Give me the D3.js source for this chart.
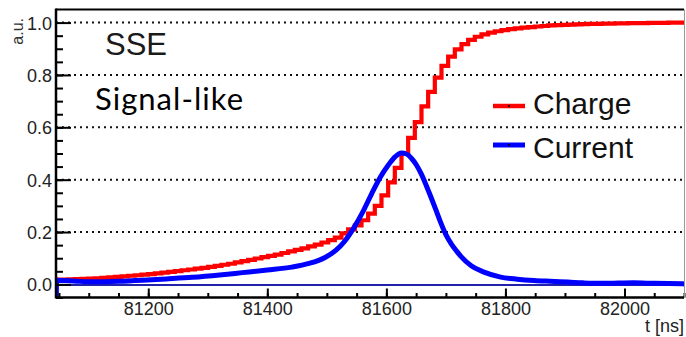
<!DOCTYPE html>
<html><head><meta charset="utf-8">
<script src="https://cdn.jsdelivr.net/npm/d3@7"></script>
<style>body{margin:0;background:#fff} svg{display:block}</style>
</head><body>
<svg id="c" width="686" height="337"></svg>
<script>
// ---- data ----
const yTicks = [0.0, 0.2, 0.4, 0.6, 0.8, 1.0];
const xTicks = [81200, 81400, 81600, 81800, 82000];
const seriesNames = ["Charge", "Current"];
const chargeStart = 81043, chargeBin = 11.2;
const chargeValues = [
  0.018, 0.018, 0.019, 0.020, 0.021, 0.022, 0.023, 0.025, 0.027, 0.029,
  0.031, 0.033, 0.035, 0.037, 0.039, 0.042, 0.045, 0.048, 0.051, 0.054,
  0.057, 0.060, 0.063, 0.067, 0.071, 0.075, 0.079, 0.084, 0.089, 0.094,
  0.099, 0.104, 0.109, 0.114, 0.120, 0.126, 0.132, 0.138, 0.145, 0.152,
  0.160, 0.169, 0.179, 0.195, 0.210, 0.225, 0.245, 0.270, 0.300, 0.340,
  0.390, 0.445, 0.500, 0.560, 0.620, 0.680, 0.735, 0.790, 0.835, 0.870,
  0.898, 0.918, 0.934, 0.946, 0.955, 0.962, 0.967, 0.971, 0.975, 0.978,
  0.981, 0.983, 0.985, 0.987, 0.989, 0.990, 0.991, 0.992, 0.993, 0.994,
  0.995, 0.995, 0.996, 0.996, 0.997, 0.997, 0.998, 0.998, 0.998, 0.999,
  0.999, 0.999, 1.000, 1.000, 1.000, 1.000
];
const currentT = [81045, 81046, 81080, 81110, 81150, 81190, 81230, 81274, 81320, 81358,
  81400, 81441, 81470, 81497, 81515, 81530, 81545, 81560, 81575, 81590,
  81603, 81615, 81625, 81634, 81642, 81650, 81659, 81667, 81675, 81684,
  81692, 81700, 81709, 81718, 81726, 81742, 81764, 81792, 81820, 81848,
  81875, 81905, 81930, 81960, 81990, 82015, 82050, 82100];
const currentV = [-0.2, 0.016, 0.012, 0.010, 0.012, 0.016, 0.021, 0.027, 0.036, 0.045,
  0.055, 0.066, 0.080, 0.103, 0.130, 0.165, 0.215, 0.275, 0.345, 0.410,
  0.455, 0.488, 0.502, 0.498, 0.482, 0.458, 0.420, 0.378, 0.333, 0.280,
  0.232, 0.190, 0.155, 0.127, 0.105, 0.072, 0.047, 0.028, 0.020, 0.015,
  0.012, 0.009, 0.006, 0.004, 0.005, 0.006, 0.004, 0.002];

// ---- layout ----
const svg = d3.select("#c");
const L = 56, R = 684, T = 9.5, B = 297.5;
const x = d3.scaleLinear().domain([81045, 82100]).range([L, R]);
const y = d3.scaleLinear().domain([-0.05, 1.05]).range([B, T]);
const font = "'Liberation Sans', Arial, Helvetica, sans-serif";

svg.append("defs").append("clipPath").attr("id", "clip")
  .append("rect").attr("x", L).attr("y", T).attr("width", R - L).attr("height", B - T);

// grid (dotted)
svg.append("g").selectAll("line").data(yTicks.filter(d => d > 0)).join("line")
  .attr("x1", L).attr("x2", R).attr("y1", d => y(d)).attr("y2", d => y(d))
  .attr("stroke", "#111").attr("stroke-width", 2).attr("stroke-dasharray", "2,4");

const plot = svg.append("g").attr("clip-path", "url(#clip)");

// zero line
plot.append("line").attr("x1", L).attr("x2", R).attr("y1", y(0) + 0.5).attr("y2", y(0) + 0.5)
  .attr("stroke", "#2222aa").attr("stroke-width", 2);

// charge histogram (step)
const chargePts = chargeValues.map((v, i) => [chargeStart + i * chargeBin, v]);
chargePts.push([chargeStart + chargeValues.length * chargeBin, chargeValues[chargeValues.length - 1]]);
plot.append("path").datum(chargePts)
  .attr("fill", "none").attr("stroke", "#ff0000").attr("stroke-width", 4.2)
  .attr("d", d3.line().x(d => x(d[0])).y(d => y(d[1])).curve(d3.curveStepAfter));

// current curve
const curPts = currentT.map((t, i) => [t, currentV[i]]);
plot.append("path").datum(curPts)
  .attr("fill", "none").attr("stroke", "#0000ff").attr("stroke-width", 5)
  .attr("stroke-linejoin", "round")
  .attr("d", d3.line().x(d => x(d[0])).y(d => y(d[1])).curve(d3.curveMonotoneX));

// axes
function styleAxis(g) {
  g.select(".domain").remove();
  g.selectAll(".tick line").attr("stroke", "#000").attr("stroke-width", 2);
  g.selectAll(".tick text").attr("font-family", font).attr("font-size", 18).attr("fill", "#222");
}
svg.append("g").attr("transform", `translate(${L},0)`)
  .call(d3.axisLeft(y).tickValues(d3.range(0, 21).map(i => -0.05 + i * 0.05)).tickSize(-7).tickFormat(""))
  .call(styleAxis);
svg.append("g").attr("transform", `translate(${L},0)`)
  .call(d3.axisLeft(y).tickValues(yTicks).tickSize(-15).tickPadding(4).tickFormat(d3.format(".1f")))
  .call(styleAxis)
  .selectAll(".tick text").attr("dy", "0.36em");
svg.append("g").attr("transform", `translate(0,${B})`)
  .call(d3.axisBottom(x).tickValues(d3.range(0, 22).map(i => 81050 + i * 50)).tickSize(-4.5).tickFormat(""))
  .call(styleAxis);
svg.append("g").attr("transform", `translate(0,${B})`)
  .call(d3.axisBottom(x).tickValues(xTicks).tickSize(-9).tickPadding(5).tickFormat(d3.format("d")))
  .call(styleAxis);

// frame
svg.append("line").attr("x1", L).attr("x2", R).attr("y1", T).attr("y2", T).attr("stroke", "#000").attr("stroke-width", 2);
svg.append("line").attr("x1", L).attr("x2", R).attr("y1", B).attr("y2", B).attr("stroke", "#000").attr("stroke-width", 2.5);
svg.append("line").attr("x1", L).attr("x2", L).attr("y1", T - 1).attr("y2", B + 1).attr("stroke", "#000").attr("stroke-width", 2.5);
svg.append("line").attr("x1", R + 0.5).attr("x2", R + 0.5).attr("y1", T).attr("y2", B).attr("stroke", "#999").attr("stroke-width", 1);

// axis titles
svg.append("text").attr("transform", "translate(23,18) rotate(-90)")
  .attr("text-anchor", "end").attr("font-family", font).attr("font-size", 16).attr("fill", "#333").text("a.u.");
svg.append("text").attr("x", 684).attr("y", 332).attr("text-anchor", "end")
  .attr("font-family", font).attr("font-size", 18).attr("fill", "#222").text("t [ns]");

// annotations
svg.append("text").attr("x", 105).attr("y", 55).attr("font-family", font).attr("font-size", 31)
  .attr("fill", "#1a1a1a").text("SSE");
svg.append("text").attr("x", 95).attr("y", 110).attr("font-family", "Lato, 'Open Sans', sans-serif")
  .attr("font-size", 31).attr("fill", "#000").attr("textLength", 148).attr("lengthAdjust", "spacing")
  .text("Signal-like");

// legend
const legColors = ["#ff0000", "#0000ff"];
const legY = [106, 145];
const leg = svg.append("g").selectAll("g").data(seriesNames).join("g")
  .attr("transform", (d, i) => `translate(0,${legY[i]})`);
leg.append("line").attr("x1", 493).attr("x2", 525).attr("y1", 0).attr("y2", 0)
  .attr("stroke", (d, i) => legColors[i]).attr("stroke-width", (d, i) => i ? 5 : 4.5);
leg.append("circle").attr("cx", 509).attr("cy", 0).attr("r", 1).attr("fill", "#000");
leg.append("text").attr("x", 533).attr("y", (d, i) => i ? 13 : 8).attr("font-family", font)
  .attr("font-size", 30).attr("fill", "#111").text(d => d);
</script>
</body></html>
